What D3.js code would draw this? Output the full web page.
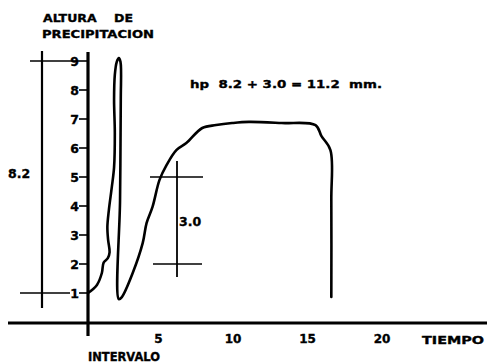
<!DOCTYPE html>
<html>
<head>
<meta charset="utf-8">
<script src="https://cdn.jsdelivr.net/npm/d3@7"></script>
<style>
  html, body { margin: 0; padding: 0; background: #fff; }
  svg { display: block; }
  text { font-family: "DejaVu Sans", "Liberation Sans", sans-serif; font-weight: bold; fill: #000; stroke: #000; stroke-width: 0.35; }
</style>
</head>
<body>
<svg id="chart" width="487" height="364"></svg>
<script>
// Mass curve of rainfall: accumulated height vs. time
const curveTime = [0, 0.6, 0.93, 1.05, 1.33, 1.45, 1.35, 1.3, 1.4, 1.6, 1.75, 1.8, 1.75, 1.8, 1.93, 2.07, 2.18, 2.2, 2.15, 2.07,
                   2.27, 3.0, 3.67, 3.93, 4.33, 4.8, 5.27, 5.93, 6.6, 7.67, 8.6, 9.67, 10.8, 13.0, 15.27, 15.67, 16.27, 16.33, 16.33];
const curveHeight = [1.0, 1.28, 1.69, 2.05, 2.2, 2.41, 2.83, 3.28, 3.86, 4.66, 5.34, 6.52, 7.66, 8.52, 8.97, 9.1, 8.97, 7.66, 4.2, 0.79,
                     0.86, 1.69, 2.72, 3.41, 3.97, 4.9, 5.41, 5.93, 6.17, 6.69, 6.79, 6.86, 6.9, 6.86, 6.79, 6.41, 5.93, 4.2, 0.86];

const yTicks = [1, 2, 3, 4, 5, 6, 7, 8, 9];
const xTicks = [5, 10, 15, 20];

// First rise: from 1 to 9 mm, labelled 8.2
const firstRange = [1, 9];
const firstLabel = "8.2";
// Second rise: from 2 to 5 mm, labelled 3.0
const secondRange = [2, 5];
const secondLabel = "3.0";
const totalText = "hp  8.2 + 3.0 = 11.2  mm.";

const svg = d3.select("#chart");

const x = d3.scaleLinear().domain([0, 20]).range([88, 386]);
const y = d3.scaleLinear().domain([0, 9]).range([322, 61]);

// Axes
svg.append("line")
  .attr("x1", 8).attr("x2", 487)
  .attr("y1", 323).attr("y2", 323)
  .attr("stroke", "#000").attr("stroke-width", 3);
svg.append("line")
  .attr("x1", x(0)).attr("x2", x(0))
  .attr("y1", 52).attr("y2", 336)
  .attr("stroke", "#000").attr("stroke-width", 3.2);

// Y ticks
const yg = svg.append("g");
yg.selectAll("line").data(yTicks).join("line")
  .attr("x1", x(0) - 9).attr("x2", x(0))
  .attr("y1", d => y(d)).attr("y2", d => y(d))
  .attr("stroke", "#000").attr("stroke-width", 1.6);
yg.selectAll("text").data(yTicks).join("text")
  .attr("x", x(0) - 9).attr("y", d => y(d) + 5)
  .attr("text-anchor", "end")
  .attr("font-size", 12.5)
  .text(d => d);

// X tick labels
svg.append("g").selectAll("text").data(xTicks).join("text")
  .attr("x", d => x(d) - 4).attr("y", 343)
  .attr("text-anchor", "middle")
  .attr("font-size", 12)
  .text(d => d);

svg.append("text").attr("x", 422).attr("y", 344)
  .attr("font-size", 11).attr("textLength", 62).attr("lengthAdjust", "spacingAndGlyphs")
  .text("TIEMPO");
svg.append("text").attr("x", 88).attr("y", 361)
  .attr("font-size", 11.5).attr("textLength", 72).attr("lengthAdjust", "spacingAndGlyphs")
  .text("INTERVALO");

// Title
svg.append("text").attr("x", 43).attr("y", 22)
  .attr("font-size", 11).attr("textLength", 90).attr("lengthAdjust", "spacingAndGlyphs")
  .attr("xml:space", "preserve")
  .text("ALTURA    DE");
svg.append("text").attr("x", 42).attr("y", 38)
  .attr("font-size", 11).attr("textLength", 112).attr("lengthAdjust", "spacingAndGlyphs")
  .text("PRECIPITACION");

// Total text
svg.append("text").attr("x", 190).attr("y", 88)
  .attr("font-size", 11).attr("textLength", 192).attr("lengthAdjust", "spacingAndGlyphs")
  .attr("xml:space", "preserve")
  .text(totalText);

// Left bracket for the first rise
const bx = 42;
svg.append("line").attr("x1", bx).attr("x2", bx)
  .attr("y1", y(firstRange[1]) - 10).attr("y2", y(firstRange[0]) + 15)
  .attr("stroke", "#000").attr("stroke-width", 2.2);
svg.append("line").attr("x1", 30).attr("x2", x(0) - 9)
  .attr("y1", y(firstRange[1])).attr("y2", y(firstRange[1]))
  .attr("stroke", "#000").attr("stroke-width", 1.5);
svg.append("line").attr("x1", 20).attr("x2", 70)
  .attr("y1", y(firstRange[0])).attr("y2", y(firstRange[0]))
  .attr("stroke", "#000").attr("stroke-width", 1.5);
svg.append("text").attr("x", 8).attr("y", y((firstRange[0] + firstRange[1]) / 2) + 1)
  .attr("font-size", 12.5)
  .text(firstLabel);

// Bracket for the second rise
const cx = 177;
svg.append("line").attr("x1", cx).attr("x2", cx)
  .attr("y1", y(secondRange[1]) - 16).attr("y2", y(secondRange[0]) + 13)
  .attr("stroke", "#000").attr("stroke-width", 1.8);
svg.append("line").attr("x1", 150).attr("x2", 203)
  .attr("y1", y(secondRange[1])).attr("y2", y(secondRange[1]))
  .attr("stroke", "#000").attr("stroke-width", 1.4);
svg.append("line").attr("x1", 153).attr("x2", 202)
  .attr("y1", y(secondRange[0])).attr("y2", y(secondRange[0]))
  .attr("stroke", "#000").attr("stroke-width", 1.4);
svg.append("text").attr("x", cx + 2).attr("y", y((secondRange[0] + secondRange[1]) / 2) + 5)
  .attr("font-size", 12.5)
  .text(secondLabel);

// Mass curve
const pts = curveTime.map((t, i) => [t, curveHeight[i]]);
const line = d3.line()
  .x(d => x(d[0])).y(d => y(d[1]))
  .curve(d3.curveCatmullRom.alpha(0.5));
svg.append("path")
  .datum(pts)
  .attr("d", line)
  .attr("fill", "none")
  .attr("stroke", "#000")
  .attr("stroke-width", 2.6)
  .attr("stroke-linejoin", "round")
  .attr("stroke-linecap", "round");
</script>
</body>
</html>
